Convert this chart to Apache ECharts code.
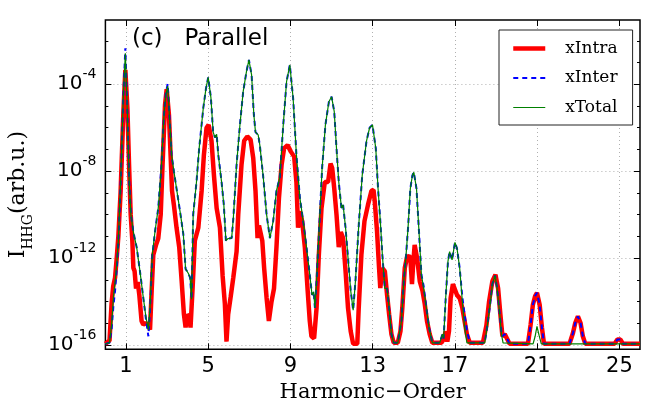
<!DOCTYPE html>
<html><head><meta charset="utf-8">
<script src="https://cdn.jsdelivr.net/npm/echarts@6/dist/echarts.min.js"></script>
<style>html,body{margin:0;padding:0;background:#fff}#c{width:660px;height:407px}</style>
</head><body><div id="c"></div>
<script>
// x tick labels (harmonic order)
const xTickValues = [1, 5, 9, 13, 17, 21, 25];
// y ticks: exponents of 10
const yMajorExp = [-16, -12, -8, -4];
const yMinorExp = [-16, -15, -14, -13, -12, -11, -10, -9, -8, -7, -6, -5, -4, -3, -2];
const seriesNames = ['xIntra', 'xInter', 'xTotal'];

// [harmonic order, log10(I_HHG)]
const intraLog10 = [
[0,-15.95],[0.2,-15.8],[0.3,-14.1],[0.38,-13.3],[0.47,-12.9],[0.55,-12.0],[0.63,-11.0],[0.74,-8.95],[0.87,-5.4],[0.97,-3.34],
[1.07,-5.1],[1.15,-7.7],[1.23,-10.0],[1.31,-11.2],[1.36,-12.45],[1.42,-12.6],[1.49,-13.4],[1.57,-13.1],[1.65,-13.7],[1.76,-14.9],
[1.84,-15.06],[1.97,-15.0],[2.09,-15.06],[2.17,-15.3],[2.25,-13.5],[2.33,-11.85],[2.46,-11.4],[2.57,-11.1],[2.69,-10.0],[2.78,-7.7],
[2.9,-4.95],[2.98,-4.23],[3.09,-5.4],[3.17,-7.25],[3.24,-8.9],[3.33,-9.55],[3.46,-10.6],[3.59,-11.5],[3.71,-13.07],[3.82,-14.6],
[3.9,-15.2],[3.98,-14.6],[4.08,-14.7],[4.14,-15.2],[4.24,-13.4],[4.35,-11.2],[4.52,-10.6],[4.68,-8.9],[4.79,-7.25],[4.92,-6.0],
[5.02,-5.87],[5.16,-6.6],[5.28,-8.2],[5.41,-9.7],[5.57,-10.6],[5.7,-12.8],[5.81,-14.1],[5.89,-15.85],[5.97,-14.6],[6.09,-13.8],
[6.22,-12.9],[6.38,-11.7],[6.46,-10.0],[6.62,-7.7],[6.75,-6.6],[6.9,-6.4],[7.06,-6.55],[7.19,-7.4],[7.3,-8.9],[7.4,-11.08],
[7.47,-10.5],[7.56,-10.45],[7.63,-11.2],[7.72,-12.45],[7.84,-13.84],[7.95,-14.9],[8.08,-14.0],[8.2,-13.4],[8.32,-11.5],[8.44,-9.24],
[8.57,-7.7],[8.69,-6.95],[8.86,-6.8],[9.02,-7.1],[9.18,-7.33],[9.29,-8.5],[9.37,-10.6],[9.46,-9.85],[9.57,-10.3],[9.7,-11.5],
[9.83,-13.4],[9.94,-14.9],[10.02,-15.6],[10.15,-15.7],[10.27,-14.3],[10.38,-11.85],[10.51,-9.7],[10.67,-8.5],[10.83,-8.5],[10.95,-7.65],
[11.03,-7.85],[11.13,-8.8],[11.24,-10.0],[11.35,-11.5],[11.45,-10.8],[11.56,-11.08],[11.68,-12.6],[11.8,-14.3],[11.93,-15.37],[12.05,-15.95],
[12.25,-15.95],[12.32,-14.3],[12.45,-11.85],[12.6,-10.3],[12.77,-9.55],[12.94,-8.9],[13.04,-8.86],[13.1,-9.4],[13.21,-10.76],[13.31,-12.46],
[13.37,-13.38],[13.47,-12.46],[13.59,-12.6],[13.7,-13.7],[13.8,-14.6],[13.91,-15.5],[14.02,-15.9],[14.22,-15.9],[14.35,-15.37],[14.44,-14.3],
[14.56,-12.46],[14.67,-11.95],[14.77,-11.9],[14.83,-12.0],[14.91,-13.2],[14.96,-12.4],[15.04,-11.39],[15.16,-12.0],[15.29,-13.07],[15.42,-13.5],
[15.53,-14.1],[15.64,-14.9],[15.77,-15.5],[15.9,-15.9],[16.34,-15.9],[16.45,-15.75],[16.55,-15.37],[16.63,-15.85],[16.71,-15.37],[16.79,-13.84],
[16.9,-13.2],[16.99,-13.15],[17.1,-13.7],[17.23,-13.85],[17.36,-14.3],[17.47,-14.9],[17.58,-15.5],[17.72,-15.9],[18.36,-15.9],[18.53,-15.1],
[18.66,-14.0],[18.82,-13.07],[18.97,-12.77],[19.1,-13.4],[19.21,-14.6],[19.31,-15.6],[19.42,-15.5],[19.53,-15.7],[19.66,-15.95],[20.55,-15.95],
[20.68,-15.07],[20.79,-14.15],[20.9,-13.75],[20.99,-13.6],[21.12,-14.15],[21.23,-15.2],[21.33,-15.95],[22.57,-15.95],[22.74,-15.45],[22.85,-14.99],
[22.98,-14.68],[23.11,-14.99],[23.22,-15.6],[23.34,-15.95],[24.76,-15.95],[24.9,-15.75],[24.97,-15.68],[25.05,-15.75],[25.17,-15.95],[26,-15.95]
];

const interLog10 = [
[0,-15.95],[0.2,-15.9],[0.3,-15.3],[0.39,-14.2],[0.47,-13.5],[0.55,-12.5],[0.63,-11.3],[0.74,-8.6],[0.87,-4.6],[0.97,-2.34],
[1.07,-5.3],[1.16,-8.5],[1.24,-10.0],[1.36,-10.8],[1.52,-11.5],[1.68,-12.6],[1.84,-13.8],[1.97,-14.8],[2.09,-15.6],[2.17,-14.4],
[2.28,-11.9],[2.41,-10.8],[2.57,-9.7],[2.73,-7.7],[2.85,-5.4],[2.94,-4.4],[3.03,-3.98],[3.14,-5.9],[3.22,-7.25],[3.33,-8.0],
[3.46,-8.8],[3.63,-9.85],[3.79,-10.9],[3.9,-12.5],[4.03,-12.7],[4.12,-12.9],[4.19,-13.9],[4.27,-10.0],[4.43,-8.5],[4.56,-6.95],
[4.76,-5.1],[4.89,-4.2],[5.0,-3.68],[5.13,-4.6],[5.24,-6.2],[5.33,-6.45],[5.41,-6.3],[5.49,-7.25],[5.65,-8.5],[5.76,-9.55],
[5.86,-11.2],[5.97,-11.1],[6.14,-11.08],[6.22,-10.2],[6.38,-7.7],[6.54,-5.9],[6.7,-4.34],[6.86,-3.42],[6.98,-2.88],[7.11,-3.57],
[7.22,-5.4],[7.3,-6.2],[7.43,-6.33],[7.51,-6.8],[7.67,-8.2],[7.84,-10.0],[8.0,-11.08],[8.16,-10.3],[8.32,-8.9],[8.48,-8.3],
[8.65,-5.87],[8.81,-3.88],[8.97,-3.11],[9.13,-4.64],[9.29,-7.25],[9.46,-9.24],[9.62,-10.3],[9.78,-11.5],[9.94,-12.77],[10.05,-13.7],
[10.13,-13.55],[10.19,-14.3],[10.27,-13.07],[10.43,-10.0],[10.54,-7.86],[10.7,-5.87],[10.87,-4.8],[11.0,-4.57],[11.13,-5.26],[11.24,-6.95],
[11.35,-8.5],[11.48,-9.7],[11.56,-9.55],[11.68,-10.6],[11.8,-12.0],[11.93,-13.5],[12.05,-14.4],[12.16,-13.07],[12.32,-10.5],[12.49,-8.2],
[12.7,-6.6],[12.85,-6.0],[12.99,-5.87],[13.15,-6.95],[13.26,-8.8],[13.37,-10.3],[13.47,-11.85],[13.59,-13.4],[13.7,-13.4],[13.8,-14.3],
[13.91,-15.5],[14.02,-15.9],[14.22,-15.9],[14.4,-14.9],[14.51,-13.07],[14.6,-12.15],[14.72,-10.6],[14.83,-8.8],[14.93,-8.2],[15.0,-8.05],
[15.13,-8.8],[15.25,-10.76],[15.37,-12.77],[15.48,-13.3],[15.61,-14.3],[15.74,-15.2],[15.9,-15.9],[16.26,-15.9],[16.39,-15.5],[16.45,-15.7],
[16.55,-13.84],[16.66,-12.15],[16.74,-11.7],[16.86,-12.08],[17.0,-11.28],[17.1,-11.55],[17.23,-12.46],[17.36,-13.8],[17.47,-14.6],[17.58,-15.3],
[17.72,-15.9],[18.45,-15.9],[18.56,-15.2],[18.69,-14.3],[18.82,-13.2],[18.95,-12.8],[19.05,-13.4],[19.18,-14.6],[19.26,-15.4],[19.31,-15.6],
[19.42,-15.5],[19.53,-15.7],[19.66,-15.95],[20.55,-15.95],[20.68,-15.07],[20.79,-14.15],[20.9,-13.75],[20.99,-13.6],[21.12,-14.15],[21.23,-15.2],
[21.33,-15.95],[22.57,-15.95],[22.74,-15.45],[22.85,-14.99],[22.98,-14.68],[23.11,-14.99],[23.22,-15.6],[23.34,-15.95],[24.76,-15.95],[24.9,-15.75],
[24.97,-15.68],[25.05,-15.75],[25.17,-15.95],[26,-15.95]
];

const totalLog10 = [
[0,-15.95],[0.2,-15.9],[0.3,-15.1],[0.39,-13.8],[0.47,-13.1],[0.55,-12.3],[0.63,-11.2],[0.74,-8.5],[0.87,-4.64],[0.97,-2.57],
[1.07,-5.4],[1.16,-8.5],[1.24,-10.0],[1.36,-10.8],[1.52,-11.5],[1.68,-12.6],[1.84,-13.8],[1.97,-14.7],[2.09,-15.3],[2.17,-14.3],
[2.28,-11.85],[2.41,-10.8],[2.57,-9.7],[2.73,-7.7],[2.85,-5.4],[2.94,-4.5],[3.03,-4.08],[3.14,-5.9],[3.22,-7.25],[3.33,-8.0],
[3.46,-8.8],[3.63,-9.85],[3.79,-10.9],[3.9,-12.5],[4.03,-12.7],[4.12,-12.9],[4.19,-13.9],[4.27,-10.0],[4.43,-8.5],[4.56,-6.95],
[4.76,-5.1],[4.89,-4.2],[5.0,-3.68],[5.13,-4.6],[5.24,-6.2],[5.33,-6.45],[5.41,-6.3],[5.49,-7.25],[5.65,-8.5],[5.76,-9.55],
[5.86,-11.2],[5.97,-11.1],[6.14,-11.08],[6.22,-10.2],[6.38,-7.7],[6.54,-5.9],[6.7,-4.34],[6.86,-3.42],[6.98,-2.88],[7.11,-3.57],
[7.22,-5.4],[7.3,-6.2],[7.43,-6.33],[7.51,-6.8],[7.67,-8.2],[7.84,-10.0],[8.0,-11.08],[8.16,-10.3],[8.32,-8.9],[8.48,-8.3],
[8.65,-5.87],[8.81,-3.88],[8.97,-3.11],[9.13,-4.64],[9.29,-7.25],[9.46,-9.24],[9.62,-10.3],[9.78,-11.5],[9.94,-12.77],[10.05,-13.7],
[10.13,-13.55],[10.19,-14.3],[10.27,-13.07],[10.43,-10.0],[10.54,-7.86],[10.7,-5.87],[10.87,-4.8],[11.0,-4.57],[11.13,-5.26],[11.24,-6.95],
[11.35,-8.5],[11.48,-9.7],[11.56,-9.55],[11.68,-10.6],[11.8,-12.0],[11.93,-13.5],[12.05,-14.4],[12.16,-13.07],[12.32,-10.5],[12.49,-8.2],
[12.7,-6.6],[12.85,-6.0],[12.99,-5.87],[13.15,-6.95],[13.26,-8.8],[13.37,-10.3],[13.47,-11.85],[13.59,-13.4],[13.7,-13.4],[13.8,-14.3],
[13.91,-15.5],[14.02,-15.9],[14.22,-15.9],[14.4,-14.9],[14.51,-13.07],[14.6,-12.15],[14.72,-10.6],[14.83,-8.8],[14.93,-8.2],[15.0,-8.05],
[15.13,-8.8],[15.25,-10.76],[15.37,-12.77],[15.48,-13.4],[15.61,-14.3],[15.74,-15.2],[15.9,-15.9],[16.26,-15.9],[16.39,-15.5],[16.45,-15.7],
[16.55,-13.84],[16.66,-12.15],[16.74,-11.7],[16.86,-12.08],[17.0,-11.28],[17.1,-11.55],[17.23,-12.46],[17.36,-14.0],[17.47,-15.2],[17.58,-15.9],
[18.45,-15.9],[18.56,-15.2],[18.69,-14.3],[18.82,-13.2],[18.95,-12.8],[19.05,-13.4],[19.18,-14.6],[19.26,-15.5],[19.34,-15.9],[20.8,-15.95],
[20.9,-15.6],[20.99,-15.14],[21.09,-15.55],[21.2,-15.95],[26,-15.95]
];

const seriesColors = ['#ff0000', '#0000ff', '#008000'];

const yMin = Math.pow(10, -16.2), yMax = Math.pow(10, -1.04);
const toData = pts => pts.map(p => [p[0], Math.pow(10, p[1])]);
const majorVals = yMajorExp.map(e => Math.pow(10, e));
const minorVals = yMinorExp.map(e => Math.pow(10, e));

const chart = echarts.init(document.getElementById('c'), null, {renderer: 'canvas'});

function yAxisDef(pos, vals, len, labels, split) {
  return {
    type: 'log', logBase: 10, min: yMin, max: yMax, position: pos, gridIndex: 0,
    axisLine: {show: false},
    axisTick: {show: true, inside: true, length: len, customValues: vals, lineStyle: {color: '#000', width: 1}},
    axisLabel: labels ? {
      show: true, customValues: vals, margin: 9, color: '#000',
      formatter: v => '{b|10}{s|' + Math.round(Math.log10(v)) + '}',
      rich: {
        b: {fontFamily: 'DejaVu Sans', fontSize: 20, color: '#000'},
        s: {fontFamily: 'DejaVu Sans', fontSize: 14, color: '#000', padding: [0, 0, 19, 0]}
      }
    } : {show: false},
    splitLine: split ? {show: true, lineStyle: {color: '#b0b0b0', type: [1, 3], width: 1}} : {show: false},
    minorTick: {show: false}, minorSplitLine: {show: false}
  };
}

const legendWidths = [4.5, 2, 1.2];
const legendTypes = ['solid', [5, 4], 'solid'];

const option = {
  animation: false,
  backgroundColor: '#fff',
  grid: {left: 105.4, right: 20, top: 20, bottom: 57.7, show: true, borderColor: '#000', borderWidth: 1.5, backgroundColor: 'transparent', outerBoundsMode: 'none'},
  title: {
    text: '(c)   Parallel', left: 132, top: 28, padding: 0,
    textStyle: {fontFamily: 'DejaVu Sans', fontSize: 23, fontWeight: 'normal', color: '#000'}
  },
  legend: {
    orient: 'vertical', left: 499, top: 30,
    backgroundColor: '#fff', borderColor: '#222', borderWidth: 1, borderRadius: 0,
    padding: [10, 15, 9, 12], itemWidth: 32, itemHeight: 14, itemGap: 12.5,
    itemStyle: {opacity: 0},
    textStyle: {fontFamily: 'DejaVu Serif', fontSize: 17, color: '#000', padding: [0, 0, 0, 15]},
    data: seriesNames.map((n, i) => ({
      name: n,
      lineStyle: {color: seriesColors[i], width: legendWidths[i], type: legendTypes[i]}
    }))
  },
  xAxis: [
    {
      type: 'value', min: 0, max: 26, position: 'bottom', gridIndex: 0,
      name: 'Harmonic\u2212Order', nameLocation: 'middle', nameGap: 29,
      nameTextStyle: {fontFamily: 'DejaVu Serif', fontSize: 21, color: '#000'},
      axisLine: {show: false},
      axisTick: {show: true, inside: true, length: 6, customValues: xTickValues, lineStyle: {color: '#000'}},
      axisLabel: {show: true, customValues: xTickValues, margin: 7, fontFamily: 'DejaVu Sans', fontSize: 21, color: '#000'},
      splitLine: {show: true, lineStyle: {color: '#b0b0b0', type: [1, 3], width: 1}}
    },
    {
      type: 'value', min: 0, max: 26, position: 'top', gridIndex: 0,
      axisLine: {show: false},
      axisTick: {show: true, inside: true, length: 6, customValues: xTickValues, lineStyle: {color: '#000'}},
      axisLabel: {show: false}, splitLine: {show: false}
    }
  ],
  yAxis: [
    Object.assign(yAxisDef('left', majorVals, 6, true, true), {
      name: '{m|I}{sub|HHG}{m|(arb.u.)}', nameLocation: 'middle', nameRotate: 90, nameGap: 70,
      nameTextStyle: {
        padding: [0, 20, 0, 0],
        rich: {
          m: {fontFamily: 'DejaVu Serif', fontSize: 22, color: '#000'},
          sub: {fontFamily: 'DejaVu Serif', fontSize: 14, color: '#000', padding: [20, 0, 0, 0]}
        }
      }
    }),
    yAxisDef('left', minorVals, 3, false, false),
    yAxisDef('right', majorVals, 6, false, false),
    yAxisDef('right', minorVals, 3, false, false)
  ],
  series: [
    {name: seriesNames[0], type: 'line', data: toData(intraLog10), symbol: 'none', showSymbol: false, z: 2,
     lineStyle: {color: seriesColors[0], width: 4.5}, itemStyle: {color: seriesColors[0]}},
    {name: seriesNames[1], type: 'line', data: toData(interLog10), symbol: 'none', showSymbol: false, z: 3,
     lineStyle: {color: seriesColors[1], width: 2, type: [5, 4]}, itemStyle: {color: seriesColors[1]}},
    {name: seriesNames[2], type: 'line', data: toData(totalLog10), symbol: 'none', showSymbol: false, z: 4,
     lineStyle: {color: seriesColors[2], width: 1.2}, itemStyle: {color: seriesColors[2]}}
  ]
};
chart.setOption(option);
</script>
</body></html>
